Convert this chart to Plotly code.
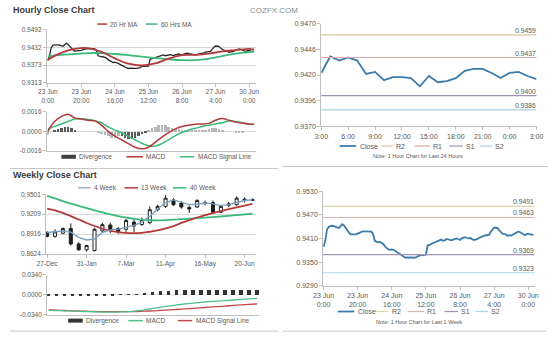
import plotly.graph_objects as go

W, H = 560, 339
FONT = "Liberation Sans"
GRAY = "#595959"
AXIS = "#bfbfbf"
GRID = "#d9d9d9"

# ---------------- hourly data: 23 Jun 0:00 .. 30 Jun (trading hours) ----------------
week_close = [
    0.9388, 0.9404, 0.9432, 0.9439, 0.9441, 0.9442, 0.9441, 0.9440, 0.9438, 0.9436,
    0.9441, 0.9446, 0.9443, 0.9436, 0.9429, 0.9424, 0.9420, 0.9420, 0.9421, 0.9420,
    0.9422, 0.9425, 0.9426, 0.9428, 0.9428, 0.9427, 0.9428, 0.9428, 0.9427, 0.9422,
    0.9404, 0.9402, 0.9400, 0.9401, 0.9399, 0.9396, 0.9390, 0.9386, 0.9382, 0.9381,
    0.9382, 0.9381, 0.9378, 0.9375, 0.9373, 0.9369, 0.9366, 0.9364, 0.9361, 0.9362,
    0.9361, 0.9362, 0.9361, 0.9361, 0.9362, 0.9364, 0.9368, 0.9368, 0.9368, 0.9368,
    0.9369, 0.9392, 0.9393, 0.9396, 0.9398, 0.9400, 0.9402, 0.9404, 0.9405, 0.9407,
    0.9404, 0.9405, 0.9408, 0.9408, 0.9406, 0.9405, 0.9407, 0.9409, 0.9410, 0.9408,
    0.9406, 0.9410, 0.9412, 0.9413, 0.9411, 0.9410, 0.9411, 0.9408, 0.9406, 0.9407,
    0.9408, 0.9411, 0.9413, 0.9413, 0.9416, 0.9418, 0.9418, 0.9419, 0.9427, 0.9433,
    0.9437, 0.9437, 0.9436, 0.9430, 0.9425, 0.9422, 0.9421, 0.9420, 0.9416, 0.9418,
    0.9417, 0.9420, 0.9423, 0.9425, 0.9427, 0.9426, 0.9424, 0.9420, 0.9418, 0.9421,
    0.9422, 0.9420, 0.9419, 0.9419,
]
week_hours = list(range(len(week_close)))
week_tick_hours = [0, 20, 40, 60, 80, 100, 120]
week_tick_text = ["23 Jun<br>0:00", "23 Jun<br>20:00", "24 Jun<br>16:00", "25 Jun<br>12:00",
                  "26 Jun<br>8:00", "27 Jun<br>4:00", "30 Jun<br>0:00"]

ma_hours = [0, 8, 16, 24, 32, 40, 48, 56, 64, 72, 80, 88, 96, 104, 112, 120, 123]
ma20 = [0.9391, 0.9414, 0.9427, 0.9430, 0.9417, 0.9395, 0.9377, 0.9371, 0.9378,
        0.9394, 0.9406, 0.9407, 0.9411, 0.9419, 0.9423, 0.9427, 0.9425]
ma60 = [0.9402, 0.9407, 0.9410, 0.9413, 0.9413, 0.9410, 0.9406, 0.9401, 0.9396,
        0.9392, 0.9389, 0.9389, 0.9394, 0.9403, 0.9411, 0.9416, 0.9418]

macd_hours = [0, 4, 8, 12, 16, 20, 24, 28, 32, 36, 40, 44, 48, 52, 56, 60, 64, 68, 72,
              76, 80, 84, 88, 92, 96, 100, 104, 108, 112, 116, 120, 123]
macd_h = [0.0000, 0.0008, 0.0012, 0.0014, 0.0011, 0.0010, 0.0009, 0.00085, 0.0005,
          0.0000, -0.0004, -0.0007, -0.0010, -0.0013, -0.00143, -0.0013, -0.0009,
          -0.00047, -0.0001, 0.0002, 0.0004, 0.0005, 0.00058, 0.0006, 0.00065, 0.0009,
          0.00104, 0.0009, 0.00075, 0.00068, 0.0006, 0.00058]
signal_h = [0.0002, 0.0004, 0.0006, 0.0008, 0.0010, 0.00102, 0.00096, 0.00086, 0.0007,
            0.00036, 0.0001, -0.0001, -0.0004, -0.0007, -0.00098, -0.00118, -0.00121,
            -0.0010, -0.0007, -0.00035, -0.0001, 0.0001, 0.00025, 0.0004, 0.0005, 0.0006,
            0.0007, 0.00085, 0.0008, 0.0007, 0.0006, 0.00058]
div_hours = list(range(0, 124, 2))
div_h = [-0.0003, 0.0000, 0.0001, 0.0002, 0.0003, 0.0004, 0.0004, 0.0003, 0.0001, 0.0000,
         0.0000, 0.0000, 0.0000, 0.0000, 0.0000, -0.0001, -0.0002, -0.0003, -0.0004, -0.0005,
         -0.0005, -0.0004, -0.0004, -0.0005, -0.0006, -0.0006, -0.0005, -0.0004, -0.0002, -0.0001,
         0.0001, 0.0003, 0.0004, 0.0005, 0.0005, 0.0005, 0.0004, 0.0003, 0.0002, 0.0002,
         0.0001, 0.0001, 0.0001, 0.0001, 0.0001, 0.0001, 0.0001, 0.0001, 0.0002, 0.0003,
         0.0003, 0.0002, 0.0001, 0.0000, 0.0000, 0.0000, -0.0001, -0.0001, -0.0001, 0.0000,
         0.0000, 0.0000]

# ---------------- last 24 hours ----------------
day_close = [0.9422, 0.9438, 0.9434, 0.9437, 0.9434, 0.9421, 0.9423, 0.9415, 0.9418,
             0.9418, 0.9417, 0.9409, 0.9419, 0.9413, 0.9414, 0.9417, 0.9424, 0.9426,
             0.9426, 0.9422, 0.9417, 0.9422, 0.9423, 0.9419, 0.9416]
day_tick_text = ["3:00", "6:00", "9:00", "12:00", "15:00", "18:00", "21:00", "0:00", "3:00"]
day_levels = {"R2": 0.9459, "R1": 0.9437, "S1": 0.9400, "S2": 0.9386}
week_levels = {"R2": 0.9491, "R1": 0.9463, "S1": 0.9369, "S2": 0.9323}

# ---------------- weekly candles ----------------
wk_labels = ["27-Dec", "31-Jan", "7-Mar", "11-Apr", "16-May", "20-Jun"]
wk_open = [0.8940, 0.8883, 0.8930, 0.8998, 0.8772, 0.8686, 0.8676, 0.8963, 0.9050, 0.8998,
           0.8988, 0.9093, 0.9057, 0.9084, 0.9275, 0.9323, 0.9419, 0.9372, 0.9308, 0.9314,
           0.9365, 0.9380, 0.9236, 0.9340, 0.9347, 0.9429, 0.9410]
wk_high = [0.8963, 0.8988, 0.9012, 0.9074, 0.8797, 0.8760, 0.9010, 0.9084, 0.9085, 0.9020,
           0.9141, 0.9130, 0.9160, 0.9323, 0.9350, 0.9491, 0.9445, 0.9400, 0.9340, 0.9430,
           0.9410, 0.9410, 0.9347, 0.9390, 0.9470, 0.9455, 0.9440]
wk_low = [0.8868, 0.8863, 0.8915, 0.8748, 0.8671, 0.8660, 0.8661, 0.8950, 0.8930, 0.8920,
          0.8949, 0.8940, 0.9040, 0.9060, 0.9250, 0.9300, 0.9330, 0.9290, 0.9228, 0.9300,
          0.9340, 0.9228, 0.9228, 0.9310, 0.9335, 0.9380, 0.9400]
wk_close = [0.8883, 0.8949, 0.8998, 0.8772, 0.8686, 0.8748, 0.8988, 0.9055, 0.8973, 0.8955,
            0.9117, 0.9035, 0.9131, 0.9275, 0.9323, 0.9444, 0.9347, 0.9314, 0.9285, 0.9409,
            0.9378, 0.9236, 0.9323, 0.9360, 0.9444, 0.9409, 0.9425]
ma4w = [0.8940, 0.8950, 0.8963, 0.8945, 0.8868, 0.8830, 0.8844, 0.8940, 0.8978, 0.8990,
        0.9012, 0.9045, 0.9093, 0.9179, 0.9285, 0.9380, 0.9419, 0.9390, 0.9350, 0.9355,
        0.9372, 0.9360, 0.9335, 0.9350, 0.9380, 0.9409, 0.9420]
ma13w = [0.9290, 0.9265, 0.9228, 0.9180, 0.9131, 0.9080, 0.9035, 0.8995, 0.8963, 0.8945,
         0.8935, 0.8932, 0.8935, 0.8950, 0.8970, 0.9000, 0.9035, 0.9080, 0.9120, 0.9160,
         0.9195, 0.9225, 0.9255, 0.9283, 0.9310, 0.9335, 0.9360]
ma40w = [0.9477, 0.9440, 0.9400, 0.9365, 0.9330, 0.9297, 0.9265, 0.9235, 0.9205, 0.9180,
         0.9160, 0.9140, 0.9128, 0.9120, 0.9118, 0.9122, 0.9128, 0.9135, 0.9142, 0.9150,
         0.9158, 0.9165, 0.9175, 0.9185, 0.9195, 0.9205, 0.9215]
macd_w = [-0.0265, -0.0268, -0.0272, -0.0277, -0.0282, -0.0287, -0.0291, -0.0294, -0.0294,
          -0.0292, -0.0285, -0.0272, -0.0255, -0.0232, -0.0210, -0.0190, -0.0172, -0.0155,
          -0.0140, -0.0127, -0.0116, -0.0106, -0.0097, -0.0088, -0.0078, -0.0068, -0.0060]
signal_w = [-0.0258, -0.0262, -0.0267, -0.0272, -0.0277, -0.0281, -0.0285, -0.0287, -0.0288,
            -0.0288, -0.0287, -0.0284, -0.0279, -0.0273, -0.0266, -0.0258, -0.0250, -0.0240,
            -0.0230, -0.0221, -0.0211, -0.0201, -0.0191, -0.0181, -0.0171, -0.0163, -0.0155]
div_w = [-0.0020, -0.0020, -0.0022, -0.0022, -0.0022, -0.0020, -0.0020, -0.0015, -0.0005,
         0.0005, 0.0010, 0.0015, 0.0035, 0.0055, 0.0065, 0.0072, 0.0078, 0.0080, 0.0082,
         0.0082, 0.0082, 0.0082, 0.0082, 0.0080, 0.0080, 0.0080, 0.0080]
wk_index = list(range(len(wk_close)))

# ---------------- helpers ----------------
def dom_x(x0, x1):
    return [x0 / W, x1 / W]

def dom_y(y0, y1):
    return [1 - y1 / H, 1 - y0 / H]

def px(x):
    return x / W

def py(y):
    return 1 - y / H

shapes = []
annotations = []

def text(x, y, s, size=6.5, anchor="left", color=GRAY, bold=False, box=160):
    ann = dict(xref="paper", yref="paper", x=px(x), y=py(y), text=f"<b>{s}</b>" if bold else s,
               showarrow=False, xanchor=anchor, yanchor="middle", borderpad=0,
               font=dict(size=size, color=color, family=FONT))
    if anchor != "center":
        ann.update(width=box, align=anchor)
    annotations.append(ann)

def key(x0, x1, y, color, lw, label, size=6.5):
    shapes.append(dict(type="line", xref="paper", yref="paper", x0=px(x0), x1=px(x1),
                       y0=py(y), y1=py(y), line=dict(color=color, width=lw)))
    text(x1 + 2.5, y, label, size=size, box=90)

def hline(x0, x1, y, color="#c8c8c8"):
    shapes.append(dict(type="line", xref="paper", yref="paper", x0=px(x0), x1=px(x1),
                       y0=py(y), y1=py(y), line=dict(color=color, width=1)))

def level_label(axis, v):
    annotations.append(dict(xref=f"{axis} domain", yref=axis.replace("x", "y"), x=1, y=v,
                            text=f"{v:.4f}", showarrow=False, xanchor="right", yanchor="bottom",
                            width=40, align="right", borderpad=0,
                            font=dict(size=6.8, color=GRAY, family=FONT)))

RED = "#b33a3a"
GREEN = "#3dba7a"
BLUE = "#3b7bab"
LEVEL_COLORS_DAY = {"R2": "#d6c7a6", "R1": "#dba8a8", "S1": "#9d92b5", "S2": "#a7cfe6"}
LEVEL_COLORS_WEEK = {"R2": "#d9d7a4", "R1": "#e0b1b1", "S1": "#a394b6", "S2": "#a9d3ea"}

fig = go.Figure()

# ---- hourly close with moving averages ----
fig.add_trace(go.Scatter(x=week_hours, y=week_close, mode="lines", xaxis="x", yaxis="y",
                         line=dict(color="#262626", width=1.3)))
fig.add_trace(go.Scatter(x=ma_hours, y=ma60, mode="lines", xaxis="x", yaxis="y",
                         line=dict(color=GREEN, width=1.8, shape="spline")))
fig.add_trace(go.Scatter(x=ma_hours, y=ma20, mode="lines", xaxis="x", yaxis="y",
                         line=dict(color=RED, width=1.8, shape="spline")))

# ---- hourly MACD ----
dark_spans = [(3, 17), (43, 59)]
div_colors = ["#5a5a5a" if any(a <= h <= b for a, b in dark_spans) else "#b8b8b8" for h in div_hours]
fig.add_trace(go.Bar(x=div_hours, y=div_h, width=1.5, marker=dict(color=div_colors, line=dict(width=0)),
                     xaxis="x2", yaxis="y2"))
fig.add_trace(go.Scatter(x=macd_hours, y=signal_h, mode="lines", xaxis="x2", yaxis="y2",
                         line=dict(color=GREEN, width=1.5, shape="spline")))
fig.add_trace(go.Scatter(x=macd_hours, y=macd_h, mode="lines", xaxis="x2", yaxis="y2",
                         line=dict(color=RED, width=1.5, shape="spline")))

# ---- last 24 hours with pivot levels ----
for name, v in day_levels.items():
    shapes.append(dict(type="line", xref="x3 domain", yref="y3", x0=0, x1=1, y0=v, y1=v,
                       line=dict(color=LEVEL_COLORS_DAY[name], width=1.2)))
    level_label("x3", v)
fig.add_trace(go.Scatter(x=list(range(len(day_close))), y=day_close, mode="lines", xaxis="x3", yaxis="y3",
                         line=dict(color=BLUE, width=1.8)))

# ---- weekly candles ----
fig.add_trace(go.Scatter(x=wk_index, y=ma40w, mode="lines", xaxis="x4", yaxis="y4",
                         line=dict(color=GREEN, width=1.8, shape="spline")))
fig.add_trace(go.Scatter(x=wk_index, y=ma13w, mode="lines", xaxis="x4", yaxis="y4",
                         line=dict(color=RED, width=1.8, shape="spline")))
fig.add_trace(go.Scatter(x=wk_index, y=ma4w, mode="lines", xaxis="x4", yaxis="y4",
                         line=dict(color="#7aa0c4", width=1.4)))
fig.add_trace(go.Candlestick(x=wk_index, open=wk_open, high=wk_high, low=wk_low, close=wk_close,
                             xaxis="x4", yaxis="y4", whiskerwidth=0,
                             increasing=dict(line=dict(color="#1f1f1f", width=1), fillcolor="white"),
                             decreasing=dict(line=dict(color="#1f1f1f", width=1), fillcolor="#1f1f1f")))

# ---- weekly MACD ----
fig.add_trace(go.Bar(x=wk_index, y=div_w, width=0.4, marker=dict(color="#333333", line=dict(width=0)),
                     xaxis="x5", yaxis="y5"))
fig.add_trace(go.Scatter(x=wk_index, y=signal_w, mode="lines", xaxis="x5", yaxis="y5",
                         line=dict(color="#c04848", width=1.3, shape="spline")))
fig.add_trace(go.Scatter(x=wk_index, y=macd_w, mode="lines", xaxis="x5", yaxis="y5",
                         line=dict(color="#4cc08c", width=1.3, shape="spline")))

# ---- last week hourly with pivot levels ----
for name, v in week_levels.items():
    shapes.append(dict(type="line", xref="x6 domain", yref="y6", x0=0, x1=1, y0=v, y1=v,
                       line=dict(color=LEVEL_COLORS_WEEK[name], width=1.2)))
    level_label("x6", v)
fig.add_trace(go.Scatter(x=week_hours, y=week_close, mode="lines", xaxis="x6", yaxis="y6",
                         line=dict(color=BLUE, width=1.8)))

# ---------------- axes ----------------
small_font = dict(size=6.5, color=GRAY, family=FONT)
large_font = dict(size=7, color=GRAY, family=FONT)

def xax(domain, rng, anchor, tickvals=None, ticktext=None, show=True, font=small_font):
    return dict(domain=domain, range=rng, anchor=anchor, showgrid=False, zeroline=False,
                showline=True, linecolor=AXIS, linewidth=1, ticks="outside" if show else "",
                ticklen=3, tickcolor=AXIS, tickvals=tickvals, ticktext=ticktext,
                showticklabels=show, tickfont=font, fixedrange=True)

def yax(domain, rng, anchor, tickvals, ticktext, grid=True, font=small_font):
    return dict(domain=domain, range=rng, anchor=anchor, showgrid=grid, gridcolor=GRID, gridwidth=1,
                zeroline=False, showline=True, linecolor=AXIS, linewidth=1, ticks="outside",
                ticklen=3, tickcolor=AXIS, tickvals=tickvals, ticktext=ticktext,
                tickfont=font, fixedrange=True)

def even(lo, hi, n):
    return [lo + (hi - lo) * i / (n - 1) for i in range(n)]

layout = dict(
    width=W, height=H, margin=dict(l=0, r=0, t=0, b=0),
    paper_bgcolor="white", plot_bgcolor="white", showlegend=False,
    font=dict(family=FONT, color=GRAY), bargap=0, boxgap=0.45,
    xaxis=xax(dom_x(38, 254), [-0.6, 124.3], "y", week_tick_hours, week_tick_text),
    yaxis=yax(dom_y(26.3, 80.3), [0.9313, 0.9492], "x", even(0.9313, 0.9492, 4),
              ["0.9313", "0.9373", "0.9432", "0.9492"]),
    xaxis2=xax(dom_x(38, 254), [-0.6, 124.3], "y2", show=False),
    yaxis2=yax(dom_y(110, 150), [-0.0016, 0.0016], "x2", [-0.0016, 0.0, 0.0016],
               ["-0.0016", "0.0000", "0.0016"]),
    xaxis3=xax(dom_x(321, 543), [0, 24], "y3", list(range(0, 25, 3)), day_tick_text, font=large_font),
    yaxis3=yax(dom_y(20, 125), [0.9370, 0.9470], "x3", even(0.9370, 0.9470, 5),
               ["0.9370", "0.9396", "0.9420", "0.9446", "0.9470"], grid=False, font=large_font),
    xaxis4=xax(dom_x(37.3, 253.3), [-0.12, 26.4], "y4", [0, 5, 10, 15, 20, 25], wk_labels),
    yaxis4=yax(dom_y(194.3, 255.3), [0.8624, 0.9501], "x4", even(0.8624, 0.9501, 4),
               ["0.8624", "0.8916", "0.9209", "0.9501"]),
    xaxis5=xax(dom_x(38.3, 257), [-0.2, 26.25], "y5", show=False),
    yaxis5=yax(dom_y(276.7, 317.3), [-0.034, 0.034], "x5", [-0.034, 0.0, 0.034],
               ["-0.0340", "0.0000", "0.0340"]),
    xaxis6=xax(dom_x(323, 541), [-0.2, 123.7], "y6", week_tick_hours, week_tick_text, font=large_font),
    yaxis6=yax(dom_y(191, 287.7), [0.9290, 0.9530], "x6", even(0.9290, 0.9530, 5),
               ["0.9290", "0.9350", "0.9410", "0.9470", "0.9530"], grid=False, font=large_font),
)
layout["xaxis4"]["rangeslider"] = dict(visible=False)

# ---------------- titles, keys, separators ----------------
text(2, 6.5, "Hourly Close Chart", size=9, color="#3a3a3a", bold=True)
text(2, 175, "Weekly Close Chart", size=9, color="#3a3a3a", bold=True)
text(272, 7, "COZFX.COM", size=8, anchor="center", color="#8a8a8a")

key(90, 100, 20.5, RED, 1.5, "20 Hr MA")
key(140, 152, 20.5, GREEN, 1.5, "60 Hrs MA")
key(53, 68, 156, "#404040", 4, "Divergence")
key(120, 137, 156, RED, 1.5, "MACD")
key(175, 190, 156, GREEN, 1.5, "MACD Signal Line")

key(70, 83, 187.7, "#8a9bb0", 1.2, "4 Week")
key(118, 132, 187.7, RED, 1.5, "13 Week")
key(168, 182, 187.7, GREEN, 1.5, "40 Week")
key(60, 75, 323.3, "#333333", 4, "Divergence")
key(122, 137, 323.3, "#4cc08c", 1.5, "MACD")
key(173, 188, 323.3, "#c04848", 1.5, "MACD Signal Line")

key(340, 357, 145, BLUE, 1.8, "Close", size=7)
key(383, 395, 145, LEVEL_COLORS_DAY["R2"], 1.2, "R2", size=7)
key(417, 433, 145, LEVEL_COLORS_DAY["R1"], 1.2, "R1", size=7)
key(453, 467, 145, LEVEL_COLORS_DAY["S1"], 1.2, "S1", size=7)
key(485, 497, 145, LEVEL_COLORS_DAY["S2"], 1.2, "S2", size=7)
text(421, 155, "Note: 1 Hour Chart for Last 24 Hours", size=5.5, anchor="center")

key(338, 355, 314, BLUE, 1.8, "Close", size=7)
key(377, 390, 314, LEVEL_COLORS_WEEK["R2"], 1.2, "R2", size=7)
key(410, 427, 314, LEVEL_COLORS_WEEK["R1"], 1.2, "R1", size=7)
key(448, 462, 314, LEVEL_COLORS_WEEK["S1"], 1.2, "S1", size=7)
key(480, 493, 314, LEVEL_COLORS_WEEK["S2"], 1.2, "S2", size=7)
text(422, 324.7, "Note: 1 Hour Chart for Last 1 Week", size=5.5, anchor="center")

hline(0, 277, 168)
hline(281, 555, 166)
hline(0, 277, 334)
hline(281, 553, 334)

layout["shapes"] = shapes
layout["annotations"] = annotations
fig.update_layout(**layout)
fig.write_html("out.html")
